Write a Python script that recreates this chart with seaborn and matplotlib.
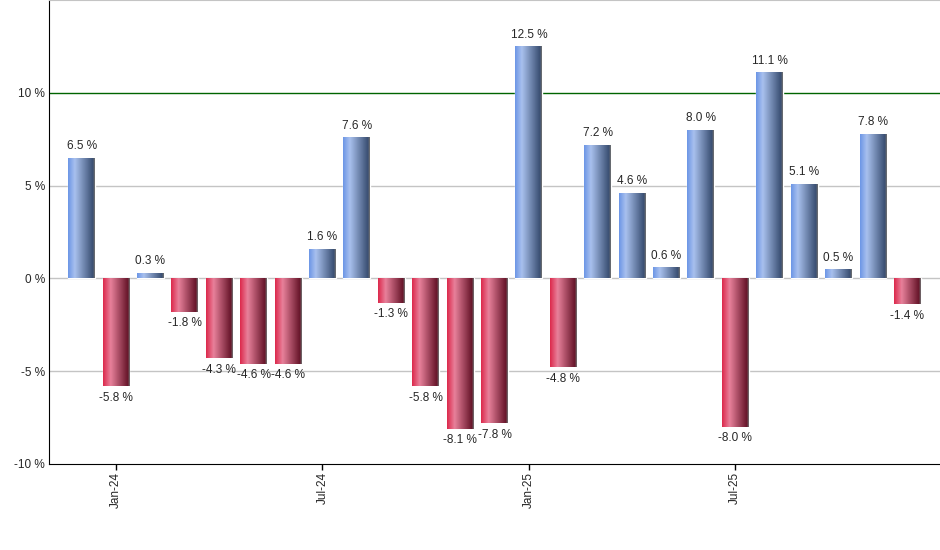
import numpy as np
import pandas as pd
import matplotlib
matplotlib.use('Agg')
import matplotlib.pyplot as plt
import seaborn as sns
from matplotlib.colors import LinearSegmentedColormap

# monthly values Dec-23 .. Dec-25
months = ['Dec-23', 'Jan-24', 'Feb-24', 'Mar-24', 'Apr-24', 'May-24', 'Jun-24',
          'Jul-24', 'Aug-24', 'Sep-24', 'Oct-24', 'Nov-24', 'Dec-24',
          'Jan-25', 'Feb-25', 'Mar-25', 'Apr-25', 'May-25', 'Jun-25',
          'Jul-25', 'Aug-25', 'Sep-25', 'Oct-25', 'Nov-25', 'Dec-25']
values = [6.5, -5.8, 0.3, -1.8, -4.3, -4.6, -4.6, 1.6, 7.6, -1.3, -5.8, -8.1, -7.8,
          12.5, -4.8, 7.2, 4.6, 0.6, 8.0, -8.0, 11.1, 5.1, 0.5, 7.8, -1.4]
tick_labels = ['Jan-24', 'Jul-24', 'Jan-25', 'Jul-25']

df = pd.DataFrame({'month': months, 'value': values})
df['sign'] = np.where(df['value'] >= 0, 'pos', 'neg')

sns.set_style('white')
plt.rcParams['font.family'] = ['Liberation Sans', 'DejaVu Sans']

fig = plt.figure(figsize=(9.4, 5.5), dpi=100)
ax = fig.add_axes([49 / 940, 86 / 550, 1 - 49 / 940, 464 / 550])

sns.barplot(data=df, x='month', y='value', hue='sign', dodge=False, legend=False,
            palette={'pos': '#7fa3e8', 'neg': '#d83a58'}, width=0.78,
            order=months, ax=ax, zorder=3)

blue = LinearSegmentedColormap.from_list('b', [(0, '#6d96e6'), (0.25, '#a9c1ee'),
                                              (0.93, '#3a4f73'), (1, '#707070')])
red = LinearSegmentedColormap.from_list('r', [(0, '#dc2a4c'), (0.28, '#e8819b'),
                                             (0.93, '#67152a'), (1, '#707070')])
grad = np.linspace(0, 1, 64).reshape(1, -1)
for p in ax.patches:
    x0, y0 = p.get_x(), p.get_y()
    w, h = p.get_width(), p.get_height()
    if w == 0 or h == 0 or np.isnan(h):
        continue
    cm = blue if h >= 0 else red
    im = ax.imshow(grad, cmap=cm, aspect='auto', zorder=4,
                   extent=[x0, x0 + w, min(y0, y0 + h), max(y0, y0 + h)])
    im.set_clip_path(p)

for i, v in enumerate(values):
    if v >= 0:
        ax.text(i, v + 0.3, f'{v:.1f} %', ha='center', va='bottom', fontsize=8.5, zorder=5)
    else:
        ax.text(i, v - 0.3, f'{v:.1f} %', ha='center', va='top', fontsize=8.5, zorder=5)

ax.set_xlim(-0.95, 24.95)
ax.set_ylim(-10, 15)
ax.set_yticks([-10, -5, 0, 5, 10])
ax.set_yticklabels(['-10 %', '-5 %', '0 %', '5 %', '10 %'], fontsize=8.5)
ax.set_xticks([months.index(t) for t in tick_labels])
ax.set_xticklabels(tick_labels, rotation=90, fontsize=8.5)
ax.tick_params(axis='x', bottom=True, length=4, width=1, color='black',
               direction='out', pad=2)
ax.tick_params(axis='y', left=False, length=0, pad=3)

for yv in [-5, 0, 5]:
    ax.axhline(yv, color='#c4c4c4', lw=1, zorder=1)
ax.axhline(10, color='#006400', lw=1, zorder=1)

ax.set_xlabel('')
ax.set_ylabel('')
ax.spines['right'].set_visible(False)
ax.spines['top'].set_color('#c4c4c4')
ax.spines['left'].set_color('black')
ax.spines['bottom'].set_color('black')
ax.set_autoscale_on(False)

fig.savefig('out.png', dpi=100)
